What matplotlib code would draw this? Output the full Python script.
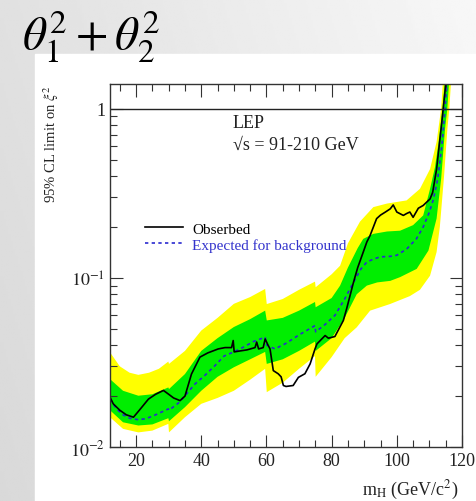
import numpy as np
import matplotlib
matplotlib.use("Agg")
import matplotlib.pyplot as plt
from matplotlib.ticker import FixedLocator, LogLocator, NullFormatter, MultipleLocator

plt.rcParams['font.family'] = ['Liberation Serif', 'DejaVu Serif']
plt.rcParams['mathtext.fontset'] = 'stix'

# expected limit (median)
exp_x = [12, 14, 16, 18, 20.7, 23, 26, 29.9, 30.1, 33, 35, 38, 41, 44, 47, 50, 53, 56, 59.6, 60.1,
         62.6, 66, 70, 74.9, 75.1, 78, 81, 84, 86.7, 89, 90.8, 92.8, 94.8, 98, 100, 103, 106, 108.1,
         110, 111.2, 112.5, 113.8, 114.8, 115.4]
exp_y = [0.0192, 0.0168, 0.0155, 0.0148, 0.0145, 0.0147, 0.0155, 0.0168, 0.0165, 0.0182, 0.0201,
         0.0235, 0.0264, 0.030, 0.0345, 0.0365, 0.039, 0.042, 0.0446, 0.040, 0.038, 0.041, 0.046,
         0.0522, 0.048, 0.053, 0.060, 0.075, 0.094, 0.113, 0.124, 0.129, 0.133, 0.134, 0.136, 0.148,
         0.170, 0.200, 0.245, 0.29, 0.38, 0.60, 1.0, 1.45]

# observed limit
obs_x = [12, 13, 15, 17, 19.2, 21, 23.8, 26, 28.4, 30, 31.5, 33.5, 35, 37, 39.6, 42, 45.2, 47.3,
         49.3, 49.8, 50.1, 52, 54, 56.5, 57, 57.6, 59, 59.6, 60.5, 61.1, 62.1, 63.6, 64.5, 65.2, 66,
         68.2, 69.8, 71.8, 73.4, 74.9, 75.5, 78, 79, 81, 83.6, 84.6, 86.7, 88, 89.7, 90.8, 91.8, 93.8,
         95, 96.5, 98, 98.9, 100, 102, 103, 104, 105, 106.6, 108.1, 110.2, 111, 112.2, 113.8, 115.1]
obs_y = [0.0197, 0.0180, 0.0165, 0.0155, 0.015, 0.0165, 0.0192, 0.0205, 0.0216, 0.0205, 0.0195,
         0.0188, 0.020, 0.027, 0.034, 0.036, 0.038, 0.0387, 0.0387, 0.0426, 0.0365, 0.037, 0.0375,
         0.0387, 0.0417, 0.038, 0.0387, 0.0435, 0.040, 0.038, 0.0283, 0.0271, 0.026, 0.0231, 0.0228,
         0.0231, 0.0258, 0.0271, 0.031, 0.038, 0.0407, 0.0456, 0.044, 0.045, 0.056, 0.0656, 0.094,
         0.115, 0.142, 0.163, 0.178, 0.224, 0.235, 0.245, 0.256, 0.27, 0.245, 0.234, 0.24, 0.245,
         0.228, 0.258, 0.268, 0.293, 0.32, 0.44, 0.83, 1.45]

# 2 sigma band edges
y_hi_x = [12, 15, 18, 20.7, 24, 27, 29.9, 30.1, 35, 40, 45, 50, 55, 59.6, 60.1, 65, 70, 74.9, 75.1,
          80, 82.6, 85, 88.7, 92.8, 97, 103, 107.1, 110.2, 112.2, 113.6, 114.2]
y_hi_y = [0.0363, 0.030, 0.0275, 0.0267, 0.0275, 0.029, 0.032, 0.031, 0.037, 0.0488, 0.058, 0.0702,
          0.077, 0.086, 0.070, 0.075, 0.085, 0.095, 0.088, 0.105, 0.118, 0.16, 0.215, 0.262, 0.275,
          0.287, 0.336, 0.44, 0.636, 1.0, 1.5]
y_lo_x = [12, 16, 20.7, 25, 29.9, 30.1, 35, 40, 45, 50, 55, 59.6, 60.1, 65, 70, 74.9, 75.1, 80, 84,
          87.7, 91.8, 97.9, 104, 107.1, 110.2, 112.2, 113.2, 114.5, 115.5, 116.1, 116.7]
y_lo_y = [0.0150, 0.0128, 0.0122, 0.0125, 0.0137, 0.0122, 0.0150, 0.0180, 0.0195, 0.0215, 0.025,
          0.029, 0.0211, 0.024, 0.029, 0.0345, 0.026, 0.034, 0.044, 0.051, 0.064, 0.070, 0.078, 0.085,
          0.103, 0.142, 0.2, 0.4, 0.75, 1.0, 1.5]

# 1 sigma band edges
g_hi_x = [12, 16, 20.7, 25, 29.9, 30.1, 35, 40, 45, 50, 55, 59.6, 60.1, 65, 70, 74.9, 75.1, 80, 82.6,
          85, 88, 89.7, 92.8, 97, 101, 105, 108.1, 110.2, 111.7, 112.7, 114, 114.8]
g_hi_y = [0.0252, 0.0215, 0.0201, 0.0205, 0.0225, 0.022, 0.027, 0.037, 0.044, 0.0512, 0.057, 0.064,
          0.056, 0.058, 0.064, 0.072, 0.067, 0.076, 0.09, 0.115, 0.15, 0.17, 0.182, 0.188, 0.19,
          0.205, 0.234, 0.336, 0.45, 0.607, 1.0, 1.5]
g_lo_x = [12, 16, 20.7, 25, 29.9, 30.1, 35, 40, 45, 50, 55, 59.6, 60.1, 65, 70, 74.9, 75.1, 80, 84,
          87.7, 90.8, 94, 98, 101, 106.1, 109.7, 112.2, 113.6, 114.8, 115.5, 116.1]
g_lo_y = [0.0165, 0.0140, 0.0134, 0.0136, 0.0148, 0.0142, 0.0172, 0.0215, 0.026, 0.0296, 0.033,
          0.0365, 0.031, 0.033, 0.037, 0.042, 0.037, 0.044, 0.058, 0.080, 0.090, 0.094, 0.096, 0.101,
          0.113, 0.145, 0.224, 0.385, 0.76, 1.0, 1.5]

W, H = 476, 502
fig = plt.figure(figsize=(W / 100, H / 100), dpi=100)

# gray slide background with white panel
bg = fig.add_axes([0, 0, 1, 1])
gx, gy = np.meshgrid(np.linspace(0, 1, 200), np.linspace(0, 1, 200))
shade = 0.88 + 0.09 * gx - 0.03 * gy
bg.imshow(shade, cmap='gray', vmin=0, vmax=1, extent=[0, 1, 0, 1], aspect='auto', origin='upper')
bg.add_patch(plt.Rectangle((35 / W, 0), 1, 1 - 55 / H, color='white'))
bg.set_xlim(0, 1)
bg.set_ylim(0, 1)
bg.axis('off')

ax = fig.add_axes([110 / W, 1 - 448 / H, 352 / W, 363 / H])
ax.set_yscale('log')

# bands
ax.fill(y_hi_x + y_lo_x[::-1], y_hi_y + y_lo_y[::-1], color='#ffff00', lw=0)
ax.fill(g_hi_x + g_lo_x[::-1], g_hi_y + g_lo_y[::-1], color='#00ee00', lw=0)

ax.plot(exp_x, exp_y, color='#2a2ad0', lw=1.2, ls=(0, (2, 2)), label='Expected for background')
ax.plot(obs_x, obs_y, color='black', lw=1.2, label='Obserbed')
ax.axhline(1, color='#222222', lw=1)

ax.set_xlim(12, 120)
ax.set_ylim(0.01, 1.4)

ax.xaxis.set_major_locator(MultipleLocator(20))
ax.xaxis.set_minor_locator(MultipleLocator(5))
ax.yaxis.set_major_locator(FixedLocator([0.01, 0.1, 1]))
ax.set_yticklabels(['$10^{-2}$', '$10^{-1}$', '1'])
ax.yaxis.set_minor_locator(LogLocator(base=10, subs=np.arange(2, 10)))
ax.yaxis.set_minor_formatter(NullFormatter())
ax.tick_params(which='both', direction='in', top=True, right=True, colors='#333333',
               labelcolor='#222222', labelsize=13, width=0.8)
ax.tick_params(which='major', length=9)
ax.tick_params(which='minor', length=5)
for s in ax.spines.values():
    s.set_color('#333333')
    s.set_linewidth(1)

# legend
h, l = ax.get_legend_handles_labels()
leg = ax.legend(h[::-1], l[::-1], loc='upper left', bbox_to_anchor=(145 / W, 1 - 223 / H),
                bbox_transform=fig.transFigure, frameon=False, fontsize=11, borderpad=0,
                borderaxespad=0, labelspacing=0.15, handlelength=2.5, handletextpad=0.6)
leg.get_texts()[1].set_color('#3333cc')

fig.text(233 / W, 1 - 124 / H, 'LEP', fontsize=13, va='center', color='#222222')
fig.text(233 / W, 1 - 145 / H, '√s = 91-210 GeV', fontsize=13, va='center', color='#222222')

fig.text(51 / W, 1 - 85 / H, '95% CL limit on $\\xi^2$', rotation=90, fontsize=10.5,
         ha='center', va='top', color='#222222')
fig.text(458 / W, 1 - 490 / H, 'm$_\\mathrm{H}$ (GeV/c$^2$)', fontsize=13, ha='right',
         va='center', color='#222222')

# slide title
fig.text(22 / W, 1 - 50 / H, '$\\theta_1^2 + \\theta_2^2$', fontsize=34, va='baseline', color='black')

fig.savefig('out.png', dpi=100)
